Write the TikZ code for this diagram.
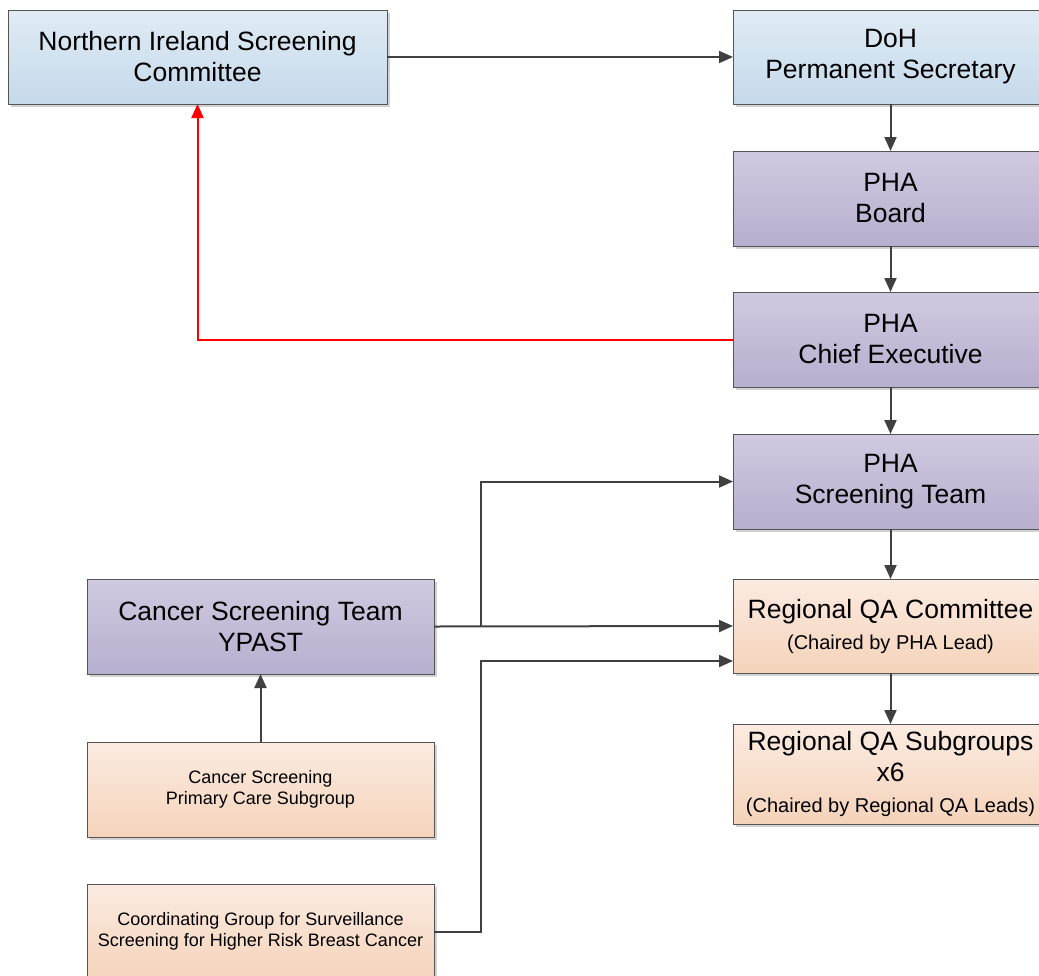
\documentclass[tikz,border=0pt]{standalone}
\usepackage{fontspec}
\setmainfont{Liberation Sans}
\usetikzlibrary{arrows.meta,shadows,calc}
\definecolor{blueT}{HTML}{E0EBF5}
\definecolor{blueB}{HTML}{C5D9EA}
\definecolor{purT}{HTML}{D1C9E0}
\definecolor{purB}{HTML}{B8AECF}
\definecolor{orT}{HTML}{FBEBE1}
\definecolor{orB}{HTML}{F5D3BA}
\definecolor{edge}{HTML}{555555}
\definecolor{lineC}{HTML}{404040}
\newcommand{\bigf}{\fontsize{26.5}{31}\selectfont}
\newcommand{\midf}{\fontsize{20}{31}\selectfont}
\newcommand{\smallf}{\fontsize{18}{21.5}\selectfont}
\begin{document}
\begin{tikzpicture}[x=1pt,y=-1pt,
  box/.style={draw=edge, line width=1pt, inner sep=0pt, outer sep=0pt, anchor=north west, align=center,
    drop shadow={shadow xshift=3pt, shadow yshift=-3pt, fill=black!18, opacity=1}},
  bluebox/.style={box, top color=blueT, bottom color=blueB, font=\bigf},
  purbox/.style={box, top color=purT, bottom color=purB, font=\bigf},
  orbox/.style={box, top color=orT, bottom color=orB},
  conn/.style={draw=lineC, line width=2pt, -{Triangle[length=14pt,width=12pt]}},
  redconn/.style={draw=red, line width=2pt, -{Triangle[length=14pt,width=12pt]}}]
\useasboundingbox (0,0) rectangle (1039,975);
\clip (0,0) rectangle (1039,975);
\node[bluebox, minimum width=379pt, minimum height=94pt] (nisc) at (8,10) {Northern Ireland Screening\\Committee};
\node[bluebox, minimum width=315pt, minimum height=94pt] (doh) at (733,10) {DoH\\Permanent Secretary};
\node[purbox, minimum width=315pt, minimum height=95pt] (board) at (733,151) {PHA\\Board};
\node[purbox, minimum width=315pt, minimum height=95pt] (chief) at (733,292) {PHA\\Chief Executive};
\node[purbox, minimum width=315pt, minimum height=95pt] (team) at (733,434) {PHA\\Screening Team};
\node[orbox, minimum width=315pt, minimum height=94pt, font=\bigf] (rqac) at (733,579) {Regional QA Committee\\{\midf (Chaired by PHA Lead)}};
\node[orbox, minimum width=315pt, minimum height=100pt, font=\bigf] (rqsub) at (733,724) {Regional QA Subgroups\\x6\\{\midf (Chaired by Regional QA Leads)}};
\node[purbox, minimum width=347pt, minimum height=95pt] (ypast) at (87,579) {Cancer Screening Team\\YPAST};
\node[orbox, minimum width=347pt, minimum height=95pt, font=\smallf] (prim) at (87,742) {Cancer Screening\\Primary Care Subgroup};
\node[orbox, minimum width=347pt, minimum height=95pt, font=\smallf] (coord) at (87,884) {Coordinating Group for Surveillance\\Screening for Higher Risk Breast Cancer};

\draw[conn] (nisc.east) -- (doh.west);
\draw[conn] (doh.south) -- (board.north);
\draw[conn] (board.south) -- (chief.north);
\draw[conn] (chief.south) -- (team.north);
\draw[conn] (team.south) -- (rqac.north);
\draw[conn] (rqac.south) -- (rqsub.north);
\draw[redconn] (chief.west) -| (nisc.south);
\coordinate (j) at ($(ypast.east)+(47,0)$);
\draw[conn] (ypast.east) -- (rqac.west);
\draw[conn] (j) |- (team.west);
\coordinate (rqin) at ($(rqac.west)+(0,35)$);
\coordinate (cj) at ($(coord.east)+(47,0)$);
\draw[conn] (coord.east) -- (cj) |- (rqin);
\draw[conn] (prim.north) -- (prim.north |- ypast.south);
\end{tikzpicture}
\end{document}
